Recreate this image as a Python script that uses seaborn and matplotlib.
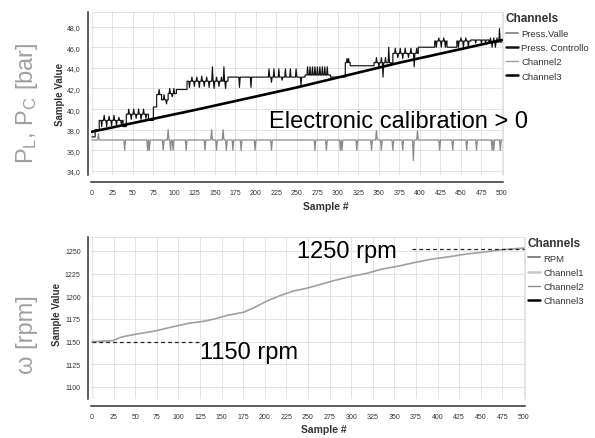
import numpy as np
import pandas as pd
import matplotlib
matplotlib.use('Agg')
import matplotlib.pyplot as plt
from matplotlib.lines import Line2D
from matplotlib.ticker import FuncFormatter, MultipleLocator
import seaborn as sns

# ---- top panel: pressures ----
# Press. Controllo: step levels (level holds from sample until next breakpoint)
ctrl_step_x = [0, 4, 9, 38, 42, 69, 75, 79, 85, 93, 103, 116, 166, 213, 260, 291, 309, 315, 344, 367, 398, 418, 433, 445, 462, 484, 500]
ctrl_step_y = [37.3, 38.0, 38.9, 38.3, 39.5, 38.9, 40.2, 41.4, 40.9, 41.5, 41.9, 42.7, 43.1, 43.1, 43.3, 43.1, 44.5, 44.2, 44.5, 45.4, 46.0, 46.6, 46.0, 46.6, 46.7, 46.5, 46.5]
# Press. Controllo: single-sample spikes
ctrl_spike_x = [12, 15, 18, 21, 24, 27, 30, 33, 36,
                45, 48, 51, 54, 57, 60, 63, 66,
                82, 88, 91, 95, 98, 100,
                119, 122, 125, 128, 131, 134, 137, 140, 143, 147, 149, 152, 155, 158, 161, 163,
                180, 194,
                216, 219, 222, 228, 232, 236, 242, 249, 255,
                263, 266, 269, 272, 275, 278, 281, 284, 287,
                311, 313,
                347, 350, 353, 355, 358, 362, 365,
                370, 373, 376, 379, 382, 386, 389, 393, 396,
                420, 423, 426, 429, 431,
                447, 450, 453, 456, 459,
                468, 475, 480,
                486, 488, 490, 492, 494, 497]
ctrl_spike_y = [38.3, 39.4, 38.3, 39.3, 38.4, 39.4, 38.4, 39.2, 38.5,
                40.0, 39.0, 40.0, 39.1, 40.0, 39.0, 40.0, 39.1,
                41.9, 41.4, 40.5, 42.0, 41.2, 42.0,
                42.1, 43.1, 42.2, 43.1, 42.1, 43.2, 42.2, 43.1, 42.1, 44.1, 42.0, 43.1, 42.2, 43.1, 44.1, 42.0,
                42.1, 42.1,
                43.9, 42.6, 43.9, 43.9, 42.8, 43.9, 43.9, 43.9, 42.3,
                44.1, 44.1, 44.1, 44.1, 44.1, 44.1, 44.1, 44.1, 44.1,
                44.9, 44.9,
                45.0, 44.1, 45.0, 43.1, 45.0, 46.0, 44.2,
                45.9, 45.0, 45.9, 44.9, 45.9, 45.0, 45.9, 44.1, 45.9,
                46.0, 46.9, 46.0, 46.9, 46.0,
                46.0, 46.9, 46.0, 46.9, 46.0,
                46.4, 46.4, 46.4,
                46.9, 46.0, 46.9, 46.0, 46.9, 47.8]
# straight calibration line
trend_x = [0, 125, 250, 375, 500]
trend_y = [37.8, 39.9, 42.1, 44.5, 46.7]
# Press. Valle: flat baseline with dips / spikes
valle_level = 37.0
valle_x = [8, 40, 68, 70, 87, 93, 96, 99, 115, 138, 146, 152, 160, 164, 172, 182, 199, 219,
           272, 286, 303, 305, 323, 341, 347, 353, 367, 379, 392, 397, 424, 440, 457, 469, 488, 490, 498]
valle_y = [37.6, 36.0, 36.0, 36.0, 36.0, 38.0, 36.0, 36.0, 36.0, 36.0, 38.0, 36.0, 38.0, 36.0, 36.0, 36.0, 36.0, 36.0,
           36.0, 36.0, 36.0, 36.0, 36.0, 36.0, 37.9, 36.0, 36.0, 36.0, 35.0, 37.9, 36.0, 36.0, 36.0, 36.0, 36.0, 36.0, 36.0]

# ---- bottom panel: engine speed ----
rpm_x = [0, 24, 34, 53, 72, 92, 111, 130, 142, 157, 176, 188, 203, 219, 234, 247, 259, 279,
         298, 317, 336, 356, 375, 394, 413, 433, 452, 471, 490, 500]
rpm_y = [1150, 1151, 1155, 1158.5, 1161.5, 1166, 1170, 1172.5, 1175, 1179, 1182.5, 1187.5, 1195, 1201,
         1206, 1208.5, 1211.5, 1217, 1221.5, 1225, 1230, 1233.5, 1237.5, 1241, 1243.5, 1246.5, 1248.5,
         1251, 1252.5, 1253]
rpm_lo, rpm_hi = 1150, 1252.5

top_labels = ['Press.Valle', 'Press. Controllo', 'Channel2', 'Channel3']
top_colors = ['#8a8a8a', '#111111', '#a0a0a0', '#000000']
bot_labels = ['RPM', 'Channel1', 'Channel2', 'Channel3']
bot_colors = ['#7a7a7a', '#c8c8c8', '#8c8c8c', '#000000']


def spiky(step_x, step_y, sx, sy, half=0.8):
    pts = []
    for i in range(len(step_x) - 1):
        pts.append((step_x[i], step_y[i]))
        pts.append((step_x[i + 1], step_y[i]))
    for s, v in zip(sx, sy):
        base = step_y[np.searchsorted(step_x, s, side='right') - 1]
        pts += [(s - half, base), (s, v), (s + half, base)]
    pts.sort(key=lambda p: p[0])
    return pd.DataFrame(pts, columns=['sample', 'value'])


sns.set_style('white')
plt.rcParams['font.family'] = ['Liberation Sans', 'DejaVu Sans']
plt.rcParams['mathtext.fontset'] = 'custom'
plt.rcParams['mathtext.rm'] = 'Liberation Sans'
plt.rcParams['mathtext.default'] = 'regular'

fig = plt.figure(figsize=(5.95, 4.39), dpi=100)
ax1 = fig.add_axes([0.153, 0.599, 0.692, 0.371])
ax2 = fig.add_axes([0.153, 0.089, 0.729, 0.369])

ctrl_df = spiky(ctrl_step_x, ctrl_step_y, ctrl_spike_x, ctrl_spike_y)
valle_df = spiky([0, 500], [valle_level, valle_level], valle_x, valle_y, half=1.0)

sns.lineplot(ax=ax1, data=valle_df, x='sample', y='value', estimator=None, sort=False,
             color=top_colors[0], lw=0.9)
sns.lineplot(ax=ax1, data=ctrl_df, x='sample', y='value', estimator=None, sort=False,
             color=top_colors[1], lw=0.85)
sns.lineplot(ax=ax1, x=trend_x, y=trend_y, color=top_colors[3], lw=1.9)

sns.lineplot(ax=ax2, x=rpm_x, y=rpm_y, color='#a0a0a0', lw=1.2)
ax2.hlines(rpm_lo, 0, 124, colors='#222222', linestyles=(0, (3, 2.5)), lw=0.9)
ax2.hlines(rpm_hi, 371, 500, colors='#222222', linestyles=(0, (3, 2.5)), lw=0.9)

comma = FuncFormatter(lambda v, p: f"{v:.1f}".replace('.', ','))

for ax, labels, colors in [(ax1, top_labels, top_colors), (ax2, bot_labels, bot_colors)]:
    ax.set_xlim(-1, 501)
    ax.xaxis.set_major_locator(MultipleLocator(25))
    ax.grid(True, color='#dedede', lw=0.6)
    ax.set_axisbelow(True)
    sns.despine(ax=ax, top=False, right=False, offset={'left': 2.5, 'bottom': 5})
    for side in ['top', 'right']:
        ax.spines[side].set_color('#dedede')
        ax.spines[side].set_linewidth(0.6)
    for side in ['left', 'bottom']:
        ax.spines[side].set_color('#333333')
        ax.spines[side].set_linewidth(1.1)
    ax.tick_params(axis='x', direction='inout', length=4, width=0.8, color='#333333',
                   labelsize=5, labelcolor='#333333', pad=3)
    ax.tick_params(axis='y', direction='out', length=3, width=0.8, color='#333333',
                   labelsize=5, labelcolor='#333333', pad=2)
    ax.set_xlabel('Sample #', fontsize=7.5, fontweight='bold', color='#333333')
    ax.set_ylabel('Sample Value', fontsize=7, fontweight='bold', color='#333333')
    handles = [Line2D([], [], color=c, lw=(1 if i % 2 == 0 else 1.8)) for i, c in enumerate(colors)]
    handles[0].set_linewidth(1.3)
    leg = ax.legend(handles, labels, title='Channels', loc='upper left', bbox_to_anchor=(1.0, 1.02),
                    frameon=False, fontsize=6.8, title_fontproperties={'weight': 'bold', 'size': 8.5},
                    handlelength=1.35, handletextpad=0.3, labelspacing=0.55, borderaxespad=0.0,
                    borderpad=0.3, alignment='left')
    leg.get_title().set_color('#333333')
    for t in leg.get_texts():
        t.set_color('#333333')

ax1.set_ylim(33.6, 49.4)
ax1.yaxis.set_major_locator(MultipleLocator(2))
ax1.yaxis.set_major_formatter(comma)
ax1.xaxis.set_label_coords(0.57, -0.16)
ax1.yaxis.set_label_coords(-0.063, 0.503)

ax2.set_ylim(1086.8, 1265.4)
ax2.yaxis.set_major_locator(MultipleLocator(25))
ax2.xaxis.set_label_coords(0.537, -0.154)
ax2.yaxis.set_label_coords(-0.067, 0.525)

ax1.text(216, 38.3, 'Electronic calibration > 0', fontsize=17, va='baseline', ha='left', color='black')
ax2.text(237, 1243.4, '1250 rpm', fontsize=17, va='baseline', ha='left', color='black')
ax2.text(124.7, 1132.4, '1150 rpm', fontsize=17, va='baseline', ha='left', color='black')

fig.text(0.045, 0.765, 'P$_L$, P$_C$ [bar]', rotation=90, ha='center', va='center',
         fontsize=17, color='#a0a0a0')
fig.text(0.045, 0.237, '\u03c9 [rpm]', rotation=90, ha='center', va='center',
         fontsize=17, color='#a0a0a0')

fig.savefig('out.png', dpi=100)
